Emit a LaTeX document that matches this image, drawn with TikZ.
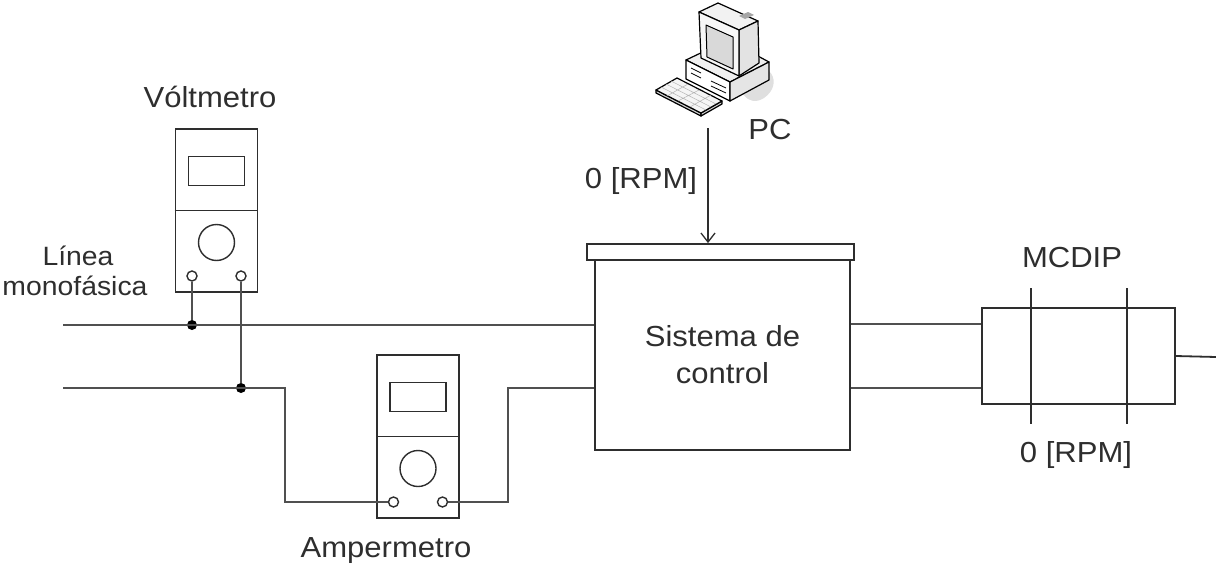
\documentclass[tikz,border=0pt]{standalone}
\usepackage{fontspec}
\setmainfont{Liberation Sans}[FakeStretch=1.07]
\usetikzlibrary{arrows.meta,calc}
\definecolor{ink}{HTML}{2e2e2e}
\definecolor{wirec}{HTML}{505050}

\tikzset{
  lbl/.style={font=\fontsize{29}{37}\selectfont, text=ink, inner sep=0pt},
  smalllbl/.style={font=\fontsize{26.5}{33}\selectfont, text=ink, inner sep=0pt},
  boxline/.style={draw=ink, line width=1.8pt, fill=white, inner sep=0pt},
  wire/.style={draw=wirec, line width=2.5pt},
  term/.style={circle, draw=ink, line width=1.4pt, fill=white, minimum size=10pt, inner sep=0pt},
  junction/.style={circle, fill=black, minimum size=10pt, inner sep=0pt},
  meter/.pic={
    \node[boxline, minimum width=82pt, minimum height=163pt] (-box) at (0,0) {};
    \draw[ink, line width=1.8pt] (-box.west) -- (-box.east);
    \draw[ink, line width=1.8pt] (-28,-54) rectangle (28,-25);
    \draw[ink, line width=1.4pt] (0,32) circle (18);
    \node[term] (-t1) at (-24.5,65.5) {};
    \node[term] (-t2) at (24.5,65.5) {};
  }
}

\begin{document}
\begin{tikzpicture}[x=1pt, y=-1pt]
\useasboundingbox (0,0) rectangle (1216,565);

% ---------- PC icon ----------
\begin{scope}[draw=black, line width=1.2pt, line join=round]
  % shadow
  \fill[gray!25] (738,66) .. controls (772,58) and (784,84) .. (764,98)
                 .. controls (748,108) and (736,92) .. (738,66);
  % base unit
  \filldraw[fill=gray!12] (686,60) -- (728,40) -- (769,62) -- (730,82) -- cycle;
  \filldraw[fill=white]   (686,60) -- (730,82) -- (730,101) -- (686,79) -- cycle;
  \filldraw[fill=gray!20] (730,82) -- (769,62) -- (769,80) -- (730,101) -- cycle;
  \draw[line width=0.8pt] (691,68) -- (701,73) (691,73) -- (701,78)
                          (711,81) -- (726,88) (711,86) -- (726,93);
  % monitor
  \filldraw[fill=gray!10] (699,12) -- (718,3) -- (758,21) -- (739,30) -- cycle;
  \filldraw[fill=gray!22] (739,30) -- (758,21) -- (759,63) -- (739,76) -- cycle;
  \filldraw[fill=gray!6]  (699,12) -- (739,30) -- (739,76) -- (701,58) -- cycle;
  \filldraw[fill=gray!30, line width=1pt] (706,25) -- (733,37) -- (733,69) -- (707,57) -- cycle;
  \fill[gray!70] (739,16) -- (748,12) -- (754,15) -- (745,19) -- cycle;
  % keyboard
  \filldraw[fill=gray!35] (656,90) -- (701,113) -- (701,116) -- (656,93) -- cycle;
  \filldraw[fill=gray!35] (701,113) -- (722,101) -- (722,104) -- (701,116) -- cycle;
  \filldraw[fill=gray!8] (656,90) -- (677,78) -- (722,101) -- (701,113) -- cycle;
  \draw[gray!60, line width=0.5pt]
    (661,87) -- (706,110) (666,84) -- (711,107) (671,81) -- (716,104)
    (667,96) -- (688,84) (678,101) -- (699,90) (690,107) -- (711,95);
\end{scope}
\node[lbl, anchor=base] (pclbl) at (770,139) {PC};

% ---------- control system ----------
\node[boxline, minimum width=255pt, minimum height=190pt, align=center,
      font=\fontsize{29}{37}\selectfont, text=ink] (sys) at (722.5,355) {Sistema de\\control};
\node[boxline, minimum width=267pt, minimum height=16pt] (bar) at (720.5,252) {};

\coordinate (pcout) at (708,128);
\draw[ink, line width=1.3pt, -{Straight Barb[length=9pt, width=14pt, line width=1.3pt]}]
  (pcout) -- (pcout |- bar.north);
\node[lbl, anchor=base] (rpmin) at (641,188) {0 [RPM]};

% ---------- meters ----------
\pic (vm) at (216.5,210.5) {meter};
\pic (am) at (418,436.5) {meter};
\node[lbl, anchor=base] (vmlbl) at (210,107) {Vóltmetro};
\node[lbl, anchor=base] (amlbl) at (386,557) {Ampermetro};
\node[smalllbl, anchor=base] (linea) at (78,265) {Línea};
\node[smalllbl, anchor=base] (mono) at (75,295) {monofásica};

% ---------- supply wiring ----------
\coordinate (L1) at (63,325);
\coordinate (L2) at (63,388);
\coordinate (c1) at (285,388);
\coordinate (c2) at (508,388);
\node[junction] (j1) at (vm-t1 |- L1) {};
\node[junction] (j2) at (vm-t2 |- L2) {};
\draw[wire] (L1) -- (L1 -| sys.west);
\draw[wire] (vm-t1.south) -- (j1);
\draw[wire] (vm-t2.south) -- (j2);
\draw[wire] (L2) -- (c1) |- (am-t1.west);
\draw[wire] (am-t2.east) -| (c2) -- (c2 -| sys.west);

% ---------- motor ----------
\node[boxline, minimum width=193pt, minimum height=96pt] (mot) at (1078.5,356) {};
\draw[ink, line width=1.8pt] (1031,288) -- (1031,424) (1127,288) -- (1127,424);
\node[lbl, anchor=base] (motlbl) at (1072,267) {MCDIP};
\node[lbl, anchor=base] (rpmout) at (1076,462) {0 [RPM]};
\draw[wire] ($(sys.east)+(0,-31)$) coordinate (r1) -- (r1 -| mot.west);
\draw[wire] ($(sys.east)+(0,33)$) coordinate (r2) -- (r2 -| mot.west);
\coordinate (shaftend) at (1216,357);
\draw[ink, line width=1.8pt] (mot.east) -- (shaftend);
\end{tikzpicture}
\end{document}
